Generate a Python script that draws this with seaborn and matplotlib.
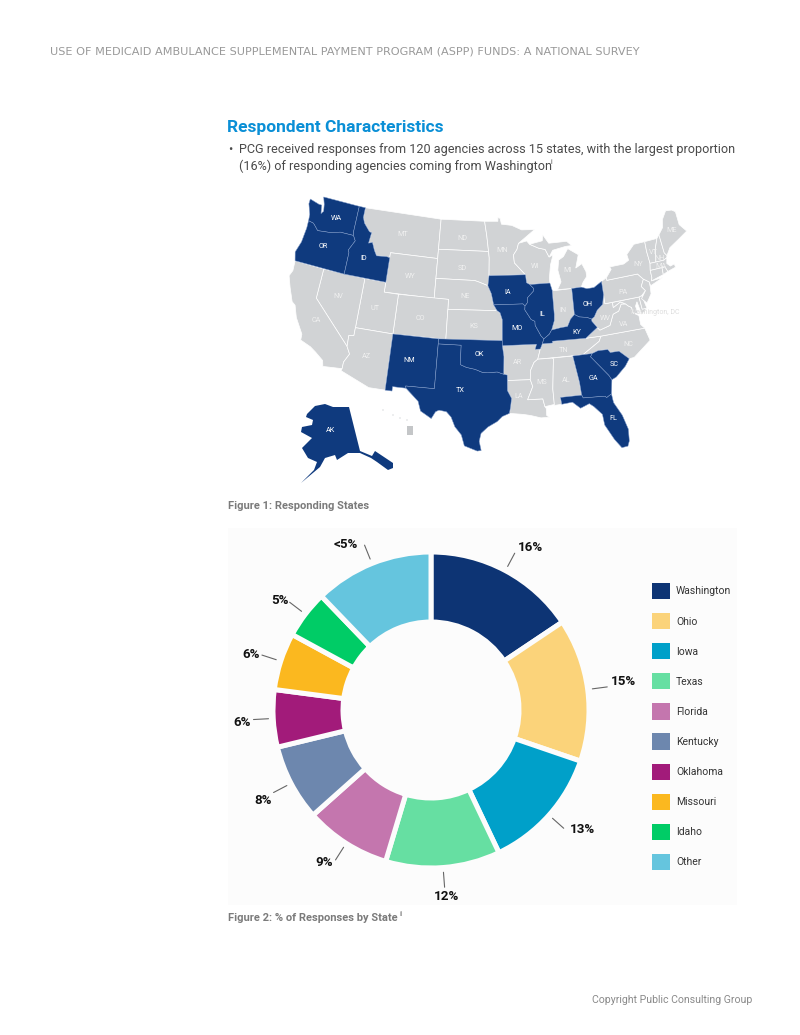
import numpy as np
import matplotlib
matplotlib.use("Agg")
import matplotlib.pyplot as plt
from matplotlib.patches import Patch, Rectangle, Polygon
import seaborn as sns

# ---------- survey data ----------
states = ["Washington", "Ohio", "Iowa", "Texas", "Florida", "Kentucky",
          "Oklahoma", "Missouri", "Idaho", "Other"]
shares = [16, 15, 13, 12, 9, 8, 6, 6, 5, 12.5]
share_labels = ["16%", "15%", "13%", "12%", "9%", "8%", "6%", "6%", "5%", "<5%"]
slice_colors = ["#0d3474", "#fbd37a", "#00a0c9", "#66dfa2", "#c476ae",
                "#6d87ae", "#a21b7a", "#fbb81f", "#00cc66", "#65c5de"]
responding = ["WA", "OR", "ID", "IA", "MO", "IL", "OH", "KY", "OK", "NM", "TX",
              "GA", "SC", "FL", "AK"]

# Small pixel shifts that keep the percentage labels clear of their leader lines
label_nudge = [(10, 5), (5, -4), (10, -7), (1, -3), (-5, -7),
               (0, 2), (0, 2), (0, 3), (0, 5), (-14, 10)]

# ---------- state outlines, lon/lat ----------
outlines = {
    "WA": [(-124.7,48.4),(-123.2,48.15),(-122.75,48.15),(-122.5,47.3),(-122.2,47.6),(-122.4,48.3),(-122.8,49),(-117.03,49),(-117.04,46.42),(-116.92,45.99),(-118.98,46),(-119.3,45.93),(-120.5,45.7),(-121.2,45.65),(-122.3,45.55),(-122.8,45.9),(-123.2,46.15),(-124,46.25),(-124.1,46.9),(-124.7,47.9)],
    "OR": [(-124,46.25),(-123.2,46.15),(-122.8,45.9),(-122.3,45.55),(-121.2,45.65),(-120.5,45.7),(-119.3,45.93),(-118.98,46),(-116.92,45.99),(-116.5,45.5),(-117.2,44.45),(-117.03,44.2),(-117.03,42),(-124.2,42),(-124.55,42.85),(-124.1,44),(-123.95,45.5)],
    "ID": [(-117.03,49),(-116.05,49),(-116.05,48),(-115.7,47.45),(-114.7,46.7),(-114.35,46.65),(-114.5,45.55),(-113.95,45.7),(-113.45,44.95),(-113,44.45),(-111.5,44.55),(-111.05,44.48),(-111.05,42),(-117.03,42),(-117.03,44.2),(-117.2,44.45),(-116.5,45.5),(-116.92,45.99),(-117.04,46.42)],
    "MT": [(-116.05,49),(-104.05,49),(-104.05,45),(-111.05,45),(-111.05,44.48),(-111.5,44.55),(-113,44.45),(-113.45,44.95),(-113.95,45.7),(-114.5,45.55),(-114.35,46.65),(-114.7,46.7),(-115.7,47.45),(-116.05,48)],
    "WY": [(-111.05,45),(-104.05,45),(-104.05,41),(-111.05,41)],
    "ND": [(-104.05,49),(-97.23,49),(-96.85,47.5),(-96.56,45.94),(-104.05,45.94)],
    "SD": [(-104.05,45.94),(-96.56,45.94),(-96.45,45.3),(-96.45,43.5),(-96.6,42.5),(-97.85,42.85),(-98.5,43),(-104.05,43)],
    "NE": [(-104.05,43),(-98.5,43),(-97.85,42.85),(-96.6,42.5),(-96.1,41.7),(-95.77,40.58),(-95.3,40),(-102.05,40),(-102.05,41),(-104.05,41)],
    "CO": [(-109.05,41),(-102.05,41),(-102.05,37),(-109.05,37)],
    "KS": [(-102.05,40),(-95.3,40),(-94.9,39.8),(-94.6,39.1),(-94.62,37),(-102.05,37)],
    "UT": [(-114.05,42),(-111.05,42),(-111.05,41),(-109.05,41),(-109.05,37),(-114.05,37)],
    "NV": [(-120,42),(-114.05,42),(-114.05,36.2),(-114.7,36.1),(-114.65,35),(-120,39)],
    "CA": [(-124.2,42),(-120,42),(-120,39),(-114.65,35),(-114.15,34.3),(-114.7,33.4),(-114.72,32.72),(-117.12,32.53),(-117.3,33.1),(-118.4,33.75),(-119.2,34.15),(-120.6,34.55),(-120.65,35.15),(-121.9,36.6),(-122.5,37.75),(-123,38),(-123.8,39.3),(-124.4,40.4),(-124.1,41)],
    "AZ": [(-114.05,37),(-109.05,37),(-109.05,31.33),(-111.07,31.33),(-114.8,32.5),(-114.72,32.72),(-114.7,33.4),(-114.15,34.3),(-114.65,35),(-114.7,36.1),(-114.05,36.2)],
    "NM": [(-109.05,37),(-103,37),(-103.05,32),(-106.62,32),(-106.53,31.78),(-108.2,31.78),(-108.2,31.33),(-109.05,31.33)],
    "TX": [(-103,36.5),(-100,36.5),(-100,34.56),(-99.2,34.3),(-98.1,34.13),(-97.2,33.85),(-96.5,33.8),(-95.3,33.88),(-94.48,33.64),(-94.04,33.55),(-94.04,33),(-94.04,31.99),(-93.55,31.2),(-93.7,30.3),(-93.85,29.7),(-94.7,29.4),(-95.3,28.9),(-96.4,28.35),(-97.2,27.7),(-97.4,26.9),(-97.15,25.96),(-97.6,25.9),(-99.1,26.4),(-99.5,27.5),(-100.3,28.3),(-100.8,29.25),(-101.4,29.77),(-102.3,29.88),(-102.7,29.7),(-103.15,28.98),(-104.5,29.65),(-104.9,30.6),(-106.53,31.78),(-106.62,32),(-103.05,32)],
    "OK": [(-103,37),(-94.62,37),(-94.62,36.5),(-94.43,35.4),(-94.48,33.64),(-95.3,33.88),(-96.5,33.8),(-97.2,33.85),(-98.1,34.13),(-99.2,34.3),(-100,34.56),(-100,36.5),(-103,36.5)],
    "MN": [(-97.23,49),(-95.15,49),(-95.15,49.38),(-94.8,49.3),(-94.6,48.7),(-93,48.55),(-91.5,48.05),(-89.5,48),(-92.05,46.7),(-92.3,46.1),(-92.85,45.55),(-92.75,44.75),(-91.2,43.5),(-96.45,43.5),(-96.45,45.3),(-96.56,45.94),(-96.85,47.5)],
    "IA": [(-96.45,43.5),(-91.2,43.5),(-91.1,42.7),(-90.65,42.5),(-90.15,42.1),(-90.2,41.8),(-91.05,41.2),(-91.1,40.7),(-91.45,40.38),(-91.73,40.6),(-95.77,40.58),(-96.1,41.7),(-96.6,42.5)],
    "MO": [(-95.77,40.58),(-91.73,40.6),(-91.45,40.38),(-91.5,40),(-90.7,39),(-90.2,38.8),(-90.2,38.4),(-89.5,37.3),(-89.15,36.98),(-89.4,36.5),(-89.7,36),(-90.37,36),(-90.15,36.5),(-94.62,36.5),(-94.62,37),(-94.6,39.1),(-94.9,39.8),(-95.3,40)],
    "AR": [(-94.62,36.5),(-90.15,36.5),(-90.37,36),(-89.7,36),(-90.1,35),(-90.6,34.7),(-91.1,33.9),(-91.17,33),(-94.04,33),(-94.04,33.55),(-94.48,33.64),(-94.43,35.4)],
    "LA": [(-94.04,33),(-91.17,33),(-90.9,32.3),(-91.6,31),(-89.75,31),(-89.55,30.2),(-89.4,30),(-89.4,29.3),(-89.1,29.1),(-90.1,29.1),(-91.3,29.4),(-92.2,29.55),(-93.85,29.7),(-93.7,30.3),(-93.55,31.2),(-94.04,31.99)],
    "WI": [(-92.05,46.7),(-90.8,46.9),(-90.4,46.55),(-89.1,46.1),(-88.1,45.9),(-87.6,45.1),(-87,45.3),(-87.5,44.3),(-87.8,43),(-87.8,42.5),(-90.65,42.5),(-91.1,42.7),(-91.2,43.5),(-92.75,44.75),(-92.85,45.55),(-92.3,46.1)],
    "IL": [(-90.65,42.5),(-87.8,42.5),(-87.55,41.75),(-87.53,39.35),(-87.6,38.7),(-88.05,37.8),(-88.4,37.4),(-89.15,36.98),(-89.5,37.3),(-90.2,38.4),(-90.2,38.8),(-90.7,39),(-91.5,40),(-91.45,40.38),(-91.1,40.7),(-91.05,41.2),(-90.2,41.8),(-90.15,42.1)],
    "IN": [(-87.55,41.75),(-87,41.7),(-84.8,41.72),(-84.82,39.1),(-85.4,38.7),(-85.9,38),(-86.8,37.95),(-88.05,37.8),(-87.6,38.7),(-87.53,39.35)],
    "OH": [(-84.8,41.72),(-83.45,41.73),(-82.7,41.5),(-81.7,41.5),(-80.52,41.98),(-80.52,40.64),(-80.85,39.7),(-81.7,39.2),(-82.2,38.6),(-82.6,38.42),(-83.2,38.65),(-84.2,38.8),(-84.82,39.1)],
    "KY": [(-89.4,36.5),(-88.05,36.5),(-88.07,36.68),(-83.68,36.6),(-82,37.5),(-82.6,38.2),(-82.6,38.42),(-83.2,38.65),(-84.2,38.8),(-84.82,39.1),(-85.4,38.7),(-85.9,38),(-86.8,37.95),(-88.05,37.8),(-88.4,37.4),(-89.15,36.98)],
    "TN": [(-89.7,36),(-89.4,36.5),(-88.05,36.5),(-88.07,36.68),(-83.68,36.6),(-81.68,36.59),(-82,36.1),(-84.3,35),(-90.1,35)],
    "MS": [(-90.1,35),(-88.2,35),(-88.1,34.9),(-88.45,31.9),(-88.4,30.35),(-89.55,30.2),(-89.75,31),(-91.6,31),(-90.9,32.3),(-91.17,33),(-91.1,33.9),(-90.6,34.7)],
    "AL": [(-88.2,35),(-85.6,35),(-85.1,32.3),(-85,31),(-87.6,31),(-87.5,30.3),(-88.4,30.25),(-88.45,31.9),(-88.1,34.9)],
    "GA": [(-85.6,35),(-83.1,35),(-83.35,34.7),(-81.4,32.6),(-81.1,32.1),(-81.4,30.7),(-82.05,30.4),(-82.2,30.57),(-84.86,30.7),(-85,31),(-85.1,32.3)],
    "FL": [(-87.6,31),(-85,31),(-84.86,30.7),(-82.2,30.57),(-82.05,30.4),(-81.4,30.7),(-81.3,29.8),(-80.5,28.4),(-80.05,26.9),(-80.15,25.7),(-80.4,25.2),(-81.1,25.15),(-81.8,26.1),(-82.7,27.7),(-82.8,28.8),(-83.7,29.7),(-84.2,30.05),(-85.3,29.7),(-86.2,30.4),(-87.5,30.3)],
    "SC": [(-83.1,35),(-82.3,35.2),(-81.05,35.15),(-80.8,34.82),(-79.67,34.8),(-78.55,33.87),(-79.2,33.2),(-80.5,32.3),(-81.1,32.1),(-81.4,32.6),(-83.35,34.7)],
    "NC": [(-84.3,35),(-82,36.1),(-81.68,36.59),(-75.87,36.55),(-75.5,35.25),(-76.5,34.7),(-77.9,33.9),(-78.55,33.87),(-79.67,34.8),(-80.8,34.82),(-81.05,35.15),(-82.3,35.2),(-83.1,35)],
    "VA": [(-83.68,36.6),(-81.68,36.59),(-75.87,36.55),(-76.3,37),(-76.3,37.9),(-77,38.3),(-77.05,38.85),(-77.5,39.1),(-77.75,39.32),(-78.35,39.4),(-78.85,38.75),(-79.65,38.55),(-80.3,37.5),(-81.7,37.2),(-82,37.5)],
    "WV": [(-82.6,38.42),(-82.6,38.2),(-82,37.5),(-81.7,37.2),(-80.3,37.5),(-79.65,38.55),(-78.85,38.75),(-78.35,39.4),(-77.75,39.32),(-78.4,39.62),(-79.48,39.2),(-79.48,39.72),(-80.52,39.72),(-80.52,40.64),(-80.85,39.7),(-81.7,39.2),(-82.2,38.6)],
    "MD": [(-79.48,39.72),(-75.79,39.72),(-75.7,38.46),(-75.05,38.45),(-75.9,37.95),(-76.2,39.3),(-76.5,38.9),(-76.35,38.1),(-77,38.3),(-77.05,38.85),(-77.5,39.1),(-77.75,39.32),(-78.4,39.62),(-79.48,39.2)],
    "DE": [(-75.79,39.72),(-75.4,39.8),(-75.05,38.45),(-75.7,38.46)],
    "PA": [(-80.52,41.98),(-79.76,42.27),(-79.76,42),(-75.35,42),(-74.7,41.36),(-75.2,40.7),(-74.75,40.2),(-75.4,39.8),(-75.79,39.72),(-80.52,39.72)],
    "NY": [(-79.76,42.27),(-78.9,43),(-79.05,43.27),(-77,43.28),(-76.2,43.55),(-76.3,44.15),(-75,45),(-73.35,45),(-73.4,44),(-73.3,42.75),(-73.5,42.05),(-73.5,41.3),(-73.65,41),(-72,41.05),(-73.9,40.55),(-74,40.95),(-74.7,41.36),(-75.35,42),(-79.76,42)],
    "NJ": [(-74.7,41.36),(-74,40.95),(-74,40.45),(-74.1,39.75),(-74.9,38.95),(-75.5,39.5),(-74.75,40.2),(-75.2,40.7)],
    "VT": [(-73.35,45),(-71.5,45),(-72.05,44.1),(-72.46,42.73),(-73.3,42.75),(-73.4,44)],
    "NH": [(-71.5,45),(-71.08,45.3),(-70.98,43.4),(-70.7,43.07),(-70.8,42.87),(-71.3,42.7),(-72.46,42.73),(-72.05,44.1)],
    "ME": [(-71.08,45.3),(-70.3,45.9),(-70,46.7),(-69.2,47.45),(-68.3,47.35),(-67.8,47.07),(-67.8,45.7),(-67,44.85),(-68.5,44.3),(-70,43.75),(-70.7,43.07),(-70.98,43.4)],
    "MA": [(-73.5,42.05),(-73.3,42.75),(-72.46,42.73),(-71.3,42.7),(-70.8,42.87),(-71,42.3),(-70.6,41.95),(-70,42.05),(-69.95,41.7),(-71.15,41.5),(-71.38,42.02)],
    "CT": [(-73.5,42.05),(-71.8,42.02),(-71.85,41.32),(-73.65,41),(-73.5,41.3)],
    "RI": [(-71.8,42.02),(-71.38,42.02),(-71.15,41.5),(-71.85,41.32)],
    "MI": [(-86.8,41.76),(-84.8,41.72),(-83.45,41.73),(-83.1,42.2),(-82.5,42.7),(-82.5,43.2),(-82.95,44.05),(-83.9,43.7),(-83.3,45),(-84.75,45.75),(-85.5,45),(-86.25,44.7),(-86.5,43.7),(-86.2,42.5)],
    "MI_UP": [(-90.4,46.55),(-89.1,46.1),(-88.1,45.9),(-87.6,45.1),(-87,45.75),(-85,46),(-84.1,46),(-84.8,46.5),(-86.5,46.5),(-87.5,46.5),(-88.3,47.4),(-88.45,46.8)],
}

# Geographic reference points and where they land on the page
anchor_lonlat = [(-124.7,48.4),(-67,44.85),(-97.4,25.96),(-80.4,25.2),(-117.12,32.53),(-124.55,42.85)]
anchor_page = [(311,197),(687,230),(480,450),(627,448),(323,363),(294,257)]

# Inset shapes drawn at page scale
alaska_page = [(307,414),(315,406),(325,404),(333,407),(349,407),(360,451),(372,456),(375,451),(393,463),(393,468),(388,470),(377,462),(371,458),(360,453),(348,453),(337,460),(335,455),(325,458),(320,467),(301,483),(314,470),(317,462),(308,458),(302,448),(312,438),(301,432),(302,427),(312,425),(313,420),(306,417)]
hawaii_x = [383, 393, 400, 407]
hawaii_y = [410, 415, 418, 420]

# Abbreviations placed on the map
map_labels = {"WA":(336,218),"OR":(323,247),"ID":(364,258),"MT":(403,234),"ND":(462,238),"SD":(462,268),"WY":(410,276),"NV":(338,296),"UT":(375,308),"CO":(420,318),"NE":(465,296),"KS":(474,326),"CA":(316,321),"AZ":(366,357),"NM":(409,361),"OK":(479,355),"TX":(460,391),"IA":(508,292),"MO":(517,328),"IL":(542,314),"IN":(563,311),"OH":(588,304),"KY":(577,332),"TN":(564,351),"AR":(517,362),"LA":(519,396),"MS":(542,382),"AL":(566,380),"GA":(593,379),"SC":(614,364),"FL":(613,419),"NC":(628,345),"VA":(624,324),"WV":(605,319),"PA":(623,292),"NY":(638,265),"MN":(502,251),"WI":(535,267),"MI":(567,271),"ME":(672,231),"VT":(653,252),"NH":(660,258),"MA":(661,267)}

def albers(lon, lat, lon0=-96.0, lat0=37.5, p1=29.5, p2=45.5):
    """Conic equal-area projection of degrees to unit-sphere coordinates."""
    lon, lat = np.radians(lon), np.radians(lat)
    lon0, lat0, p1, p2 = map(np.radians, (lon0, lat0, p1, p2))
    n = (np.sin(p1) + np.sin(p2)) / 2
    c = np.cos(p1) ** 2 + 2 * n * np.sin(p1)
    rho = np.sqrt(c - 2 * n * np.sin(lat)) / n
    rho0 = np.sqrt(c - 2 * n * np.sin(lat0)) / n
    theta = n * (lon - lon0)
    return rho * np.sin(theta), rho0 - rho * np.cos(theta)

def fit_page_transform():
    ll = np.array(anchor_lonlat)
    x, y = albers(ll[:, 0], ll[:, 1])
    design = np.column_stack([x, y, np.ones_like(x)])
    coef, *_ = np.linalg.lstsq(design, np.array(anchor_page, float), rcond=None)
    return coef

def to_page(points, coef):
    pts = np.array(points, float)
    x, y = albers(pts[:, 0], pts[:, 1])
    return np.column_stack([x, y, np.ones_like(x)]) @ coef

# ---------- page set-up ----------
sns.set_theme(style="white")
plt.rcParams["font.family"] = ["Roboto", "DejaVu Sans"]
W, H = 800, 1035
fig = plt.figure(figsize=(W / 100, H / 100), dpi=100, facecolor="white")
page = fig.add_axes([0, 0, 1, 1])
page.set_xlim(0, W)
page.set_ylim(H, 0)
page.axis("off")

NAVY = "#0f3a7e"
LAND = "#d1d3d5"
PANEL = "#fcfcfc"

# ---------- running text ----------
page.text(50, 51.5, "USE OF MEDICAID AMBULANCE SUPPLEMENTAL PAYMENT PROGRAM (ASPP) FUNDS: A NATIONAL SURVEY",
          family="DejaVu Sans", fontsize=8.1, color="#999999", va="center")
page.text(227, 127.5, "Respondent Characteristics", fontsize=12.5, fontweight="bold",
          color="#0a8fd6", va="center")
page.text(228, 150, "•", fontsize=9.05, color="#4a4a4a", va="center")
page.text(239, 150, "PCG received responses from 120 agencies across 15 states, with the largest proportion",
          fontsize=9.05, color="#4a4a4a", va="center")
page.text(239, 166, "(16%) of responding agencies coming from Washington", fontsize=9.05,
          color="#4a4a4a", va="center")
page.text(550.5, 162, "i", fontsize=5, color="#4a4a4a", va="center")
page.text(228, 506, "Figure 1: Responding States", fontsize=8.05, fontweight="bold",
          color="#7b7b7b", va="center")
page.text(228, 918, "Figure 2: % of Responses by State", fontsize=8.05, fontweight="bold",
          color="#7b7b7b", va="center")
page.text(400, 914, "ii", fontsize=5, color="#7b7b7b", va="center")
page.text(592, 1000, "Copyright Public Consulting Group", fontsize=7.55, color="#8a8a8a", va="center")

# ---------- map ----------
coef = fit_page_transform()
for code, outline in outlines.items():
    picked = code in responding
    page.add_patch(Polygon(to_page(outline, coef), closed=True,
                           facecolor=NAVY if picked else LAND,
                           edgecolor="#7f9ac8" if picked else "white",
                           linewidth=0.35 if picked else 0.5, zorder=3 if picked else 2))
page.add_patch(Polygon(alaska_page, closed=True, facecolor=NAVY, edgecolor="none", zorder=3))
page.scatter(hawaii_x, hawaii_y, s=[1, 1, 1, 1], color=LAND, zorder=2, linewidths=0)
page.add_patch(Rectangle((407, 426), 6, 9, facecolor="#c4c6c8", edgecolor="none", zorder=2))

for code, (x, y) in map_labels.items():
    page.text(x, y, code, fontsize=5.2, ha="center", va="center", zorder=5,
              color="white" if code in responding else "#f0f0f0")
page.text(330.5, 430, "AK", fontsize=5.2, ha="center", va="center", color="white", zorder=5)
page.text(655, 313, "Washington, DC", fontsize=5, ha="center", va="center", color="#dddddd", zorder=5)

# ---------- donut ----------
page.add_patch(Rectangle((228, 528), 509, 377, facecolor=PANEL, edgecolor="none", zorder=0))
cx, cy, radius = 431, 710, 158
pad = 1.45
extent = radius * pad
donut = fig.add_axes([(cx - extent) / W, 1 - (cy + extent) / H, 2 * extent / W, 2 * extent / H])
donut.patch.set_alpha(0)
wedges, _ = donut.pie(shares, colors=sns.color_palette(slice_colors), startangle=90,
                      counterclock=False, radius=1,
                      wedgeprops=dict(width=1 - 88 / radius, edgecolor=PANEL, linewidth=3.6))
donut.set_xlim(-pad, pad)
donut.set_ylim(-pad, pad)
donut.set_aspect("equal")

for wedge, text, (dx, dy) in zip(wedges, share_labels, label_nudge):
    mid = np.radians((wedge.theta1 + wedge.theta2) / 2)
    ux, uy = np.cos(mid), np.sin(mid)
    donut.plot([1.03 * ux, 1.125 * ux], [1.03 * uy, 1.125 * uy], color="#666666", lw=0.8)
    donut.text(1.2 * ux + dx / radius, 1.2 * uy - dy / radius, text, ha="center", va="center",
               fontsize=9.6, fontweight="bold", color="#111111")

handles = [Patch(facecolor=c, edgecolor="none") for c in slice_colors]
fig.legend(handles, states, loc="center left", bbox_to_anchor=(652 / W, 1 - 726.5 / H),
           frameon=False, fontsize=7.5, handlelength=1.72, handleheight=2.02,
           labelspacing=1.33, handletextpad=0.58, borderpad=0, borderaxespad=0,
           labelcolor="#333333")

fig.savefig("out.png", dpi=100)
